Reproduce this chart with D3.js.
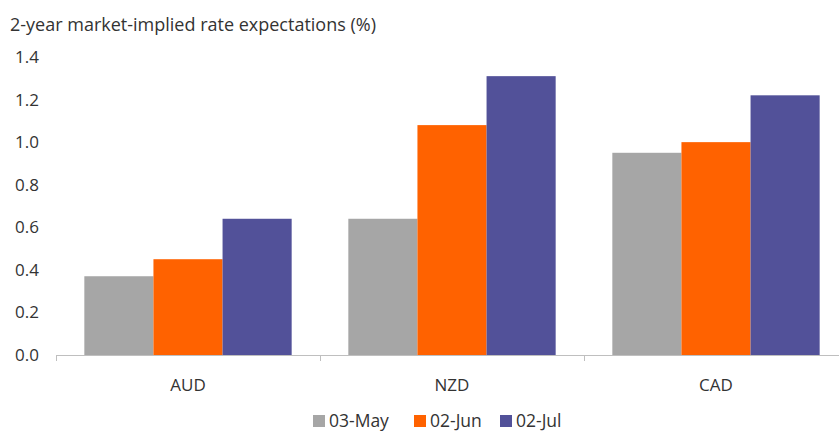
<!DOCTYPE html>
<html>
<head>
<meta charset="utf-8">
<script src="https://cdn.jsdelivr.net/npm/d3@7"></script>
<style>
  body { margin: 0; background: #fff; }
  text { font-family: "Open Sans", sans-serif; fill: #333; }
</style>
</head>
<body>
<svg id="chart" width="839" height="434"></svg>
<script>
var categories = ["AUD", "NZD", "CAD"];
var series = ["03-May", "02-Jun", "02-Jul"];
var may03 = [0.37, 0.64, 0.95];
var jun02 = [0.45, 1.08, 1.00];
var jul02 = [0.64, 1.31, 1.22];
var yTicks = [0, 0.2, 0.4, 0.6, 0.8, 1.0, 1.2, 1.4];
var colors = ["#a6a6a6", "#ff6200", "#525199"];

function drawChart() {
  var svg = d3.select("#chart");
  var mLeft = 56, mRight = 848, mTop = 57, mBottom = 355;

  var x = d3.scaleBand().domain(categories).range([mLeft, mRight]).padding(0);
  var xs = d3.scaleBand().domain(series).range([0, x.bandwidth()]).paddingOuter(0.41).paddingInner(0);
  var y = d3.scaleLinear().domain([0, 1.4]).range([mBottom, mTop]);

  svg.append("text")
      .attr("x", 10).attr("y", 31)
      .style("font-size", "18px")
      .text("2-year market-implied rate expectations (%)");

  // y labels
  svg.selectAll(".ylab").data(yTicks).enter().append("text")
      .attr("class", "ylab")
      .attr("x", 39).attr("y", function(d){ return y(d); })
      .attr("dy", "0.35em")
      .attr("text-anchor", "end")
      .style("font-size", "17px")
      .text(d3.format(".1f"));

  // bars
  var vals = [may03, jun02, jul02];
  categories.forEach(function(c, i) {
    series.forEach(function(s, j) {
      svg.append("rect")
        .attr("x", x(c) + xs(s))
        .attr("y", y(vals[j][i]))
        .attr("width", xs.bandwidth())
        .attr("height", y(0) - y(vals[j][i]))
        .style("fill", colors[j]);
    });
  });

  // x axis
  svg.append("line")
      .attr("x1", mLeft).attr("x2", mRight).attr("y1", mBottom + 0.5).attr("y2", mBottom + 0.5)
      .style("stroke", "#bfbfbf").style("stroke-width", 1);
  var bounds = categories.map(function(c){ return x(c); }).concat([mRight]);
  svg.selectAll(".xtick").data(bounds).enter().append("line")
      .attr("x1", function(d){ return Math.round(d) + 0.5; })
      .attr("x2", function(d){ return Math.round(d) + 0.5; })
      .attr("y1", mBottom).attr("y2", mBottom + 6)
      .style("stroke", "#bfbfbf");

  svg.selectAll(".xlab").data(categories).enter().append("text")
      .attr("x", function(d){ return x(d) + x.bandwidth() / 2; })
      .attr("y", 391)
      .attr("text-anchor", "middle")
      .style("font-size", "17px")
      .text(function(d){ return d; });

  // legend
  var legX = [313, 414, 500];
  var leg = svg.selectAll(".leg").data(series).enter().append("g")
      .attr("transform", function(d, i){ return "translate(" + legX[i] + ",427)"; });
  leg.append("rect").attr("x", 0).attr("y", -12).attr("width", 12).attr("height", 12)
      .style("fill", function(d, i){ return colors[i]; });
  leg.append("text").attr("x", 16).attr("y", 0)
      .style("font-size", "17.5px")
      .text(function(d){ return d; });
}

drawChart();
</script>
</body>
</html>
